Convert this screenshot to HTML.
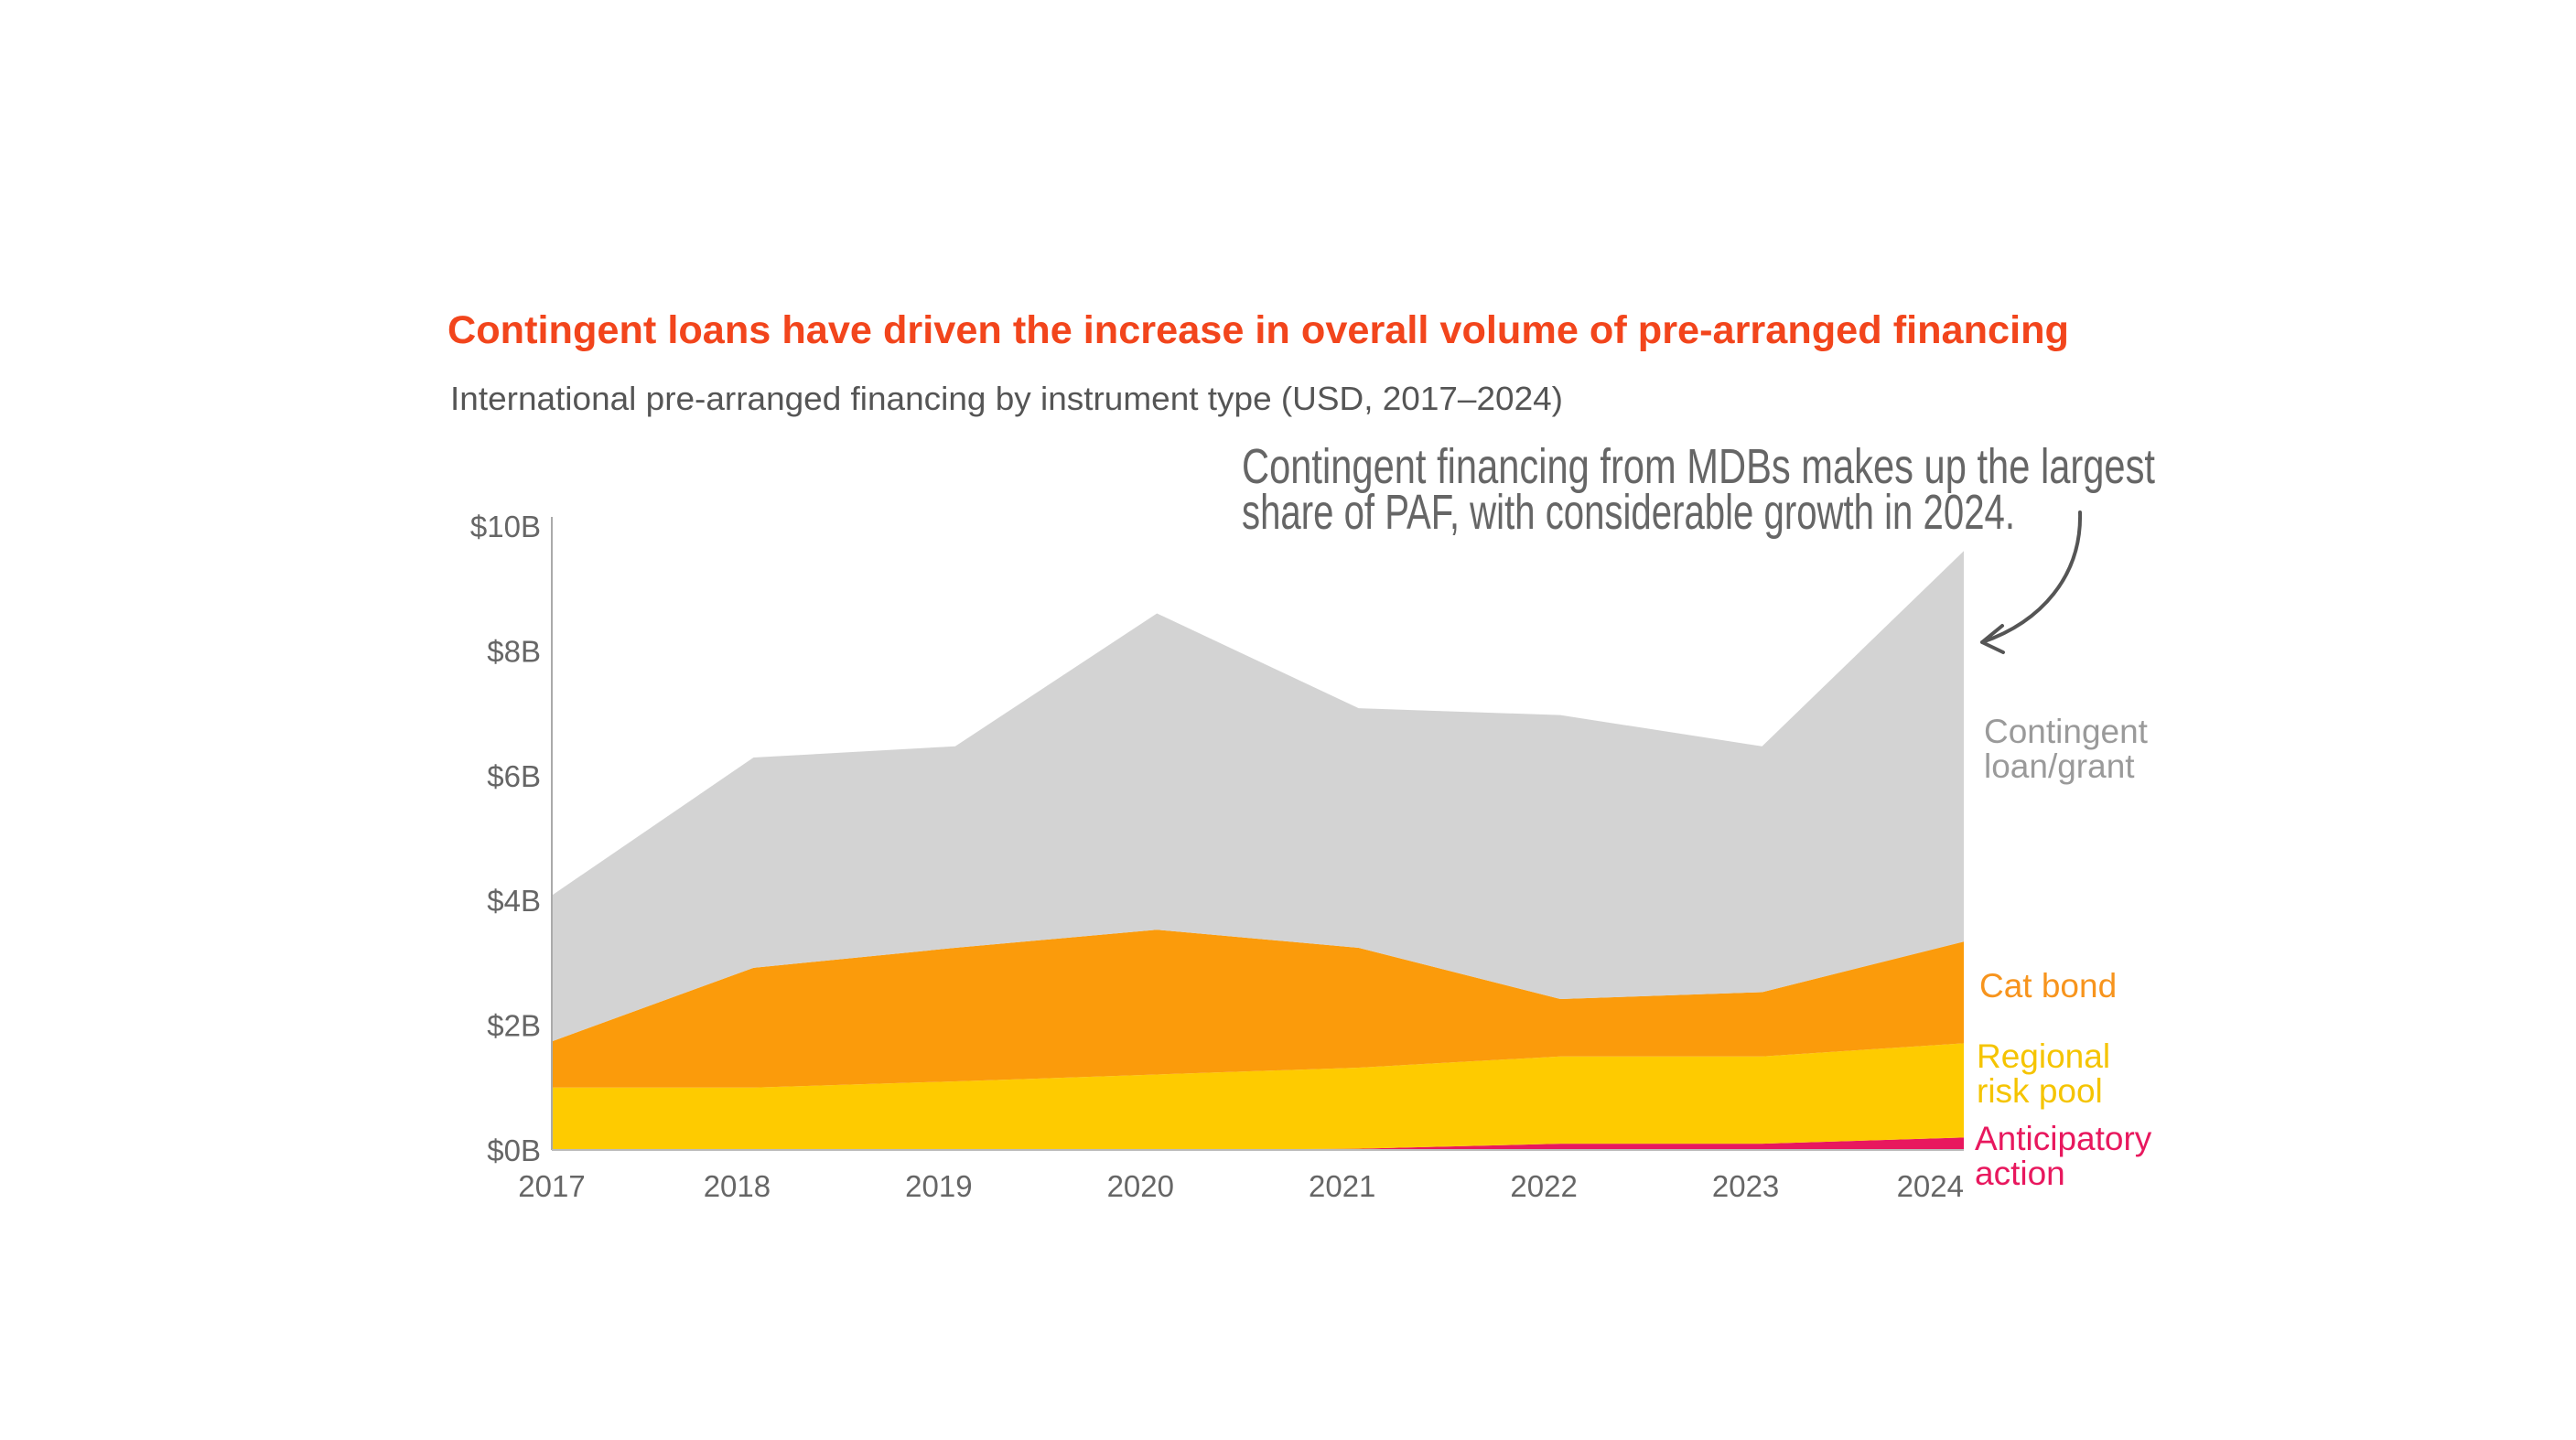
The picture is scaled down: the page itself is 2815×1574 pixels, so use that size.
<!DOCTYPE html>
<html><head><meta charset="utf-8"><style>
html,body{margin:0;padding:0;background:#fff;width:2815px;height:1574px;overflow:hidden}
svg{display:block}
text{font-family:"Liberation Sans",sans-serif}
</style></head><body>
<svg id="chart" width="2815" height="1574" viewBox="0 0 2815 1574" xmlns="http://www.w3.org/2000/svg">
<text x="489" y="375" font-size="43" font-weight="bold" fill="#f2451c" textLength="1772" lengthAdjust="spacingAndGlyphs">Contingent loans have driven the increase in overall volume of pre-arranged financing</text>
<text x="492" y="448" font-size="36" fill="#555" textLength="1216" lengthAdjust="spacingAndGlyphs">International pre-arranged financing by instrument type (USD, 2017–2024)</text>
<g fill="#666" font-size="54">
<text x="1357" y="528" textLength="998" lengthAdjust="spacingAndGlyphs">Contingent financing from MDBs makes up the largest</text>
<text x="1357" y="578" textLength="845" lengthAdjust="spacingAndGlyphs">share of PAF, with considerable growth in 2024.</text>
</g>
<path d="M2273 560 C2275 630 2230 680 2166 702 M2166 702 L2188 684 M2166 702 L2189 713" stroke="#555" stroke-width="4" fill="none" stroke-linecap="round"/>
<g id="areas"></g>
<g id="axes"></g>
<g font-size="37">
<text x="2168" y="812" fill="#9a9a9a">Contingent</text>
<text x="2168" y="850" fill="#9a9a9a">loan/grant</text>
<text x="2163" y="1090" fill="#f7941d">Cat bond</text>
<text x="2160" y="1167" fill="#f5c400">Regional</text>
<text x="2160" y="1205" fill="#f5c400">risk pool</text>
<text x="2158" y="1257" fill="#e8185e">Anticipatory</text>
<text x="2158" y="1295" fill="#e8185e">action</text>
</g>
</svg>
<script>
const years = ['2017','2018','2019','2020','2021','2022','2023','2024'];
const anticipatory = [0, 0, 0, 0, 0.02, 0.1, 0.1, 0.2];
const regional = [1.0, 1.0, 1.1, 1.21, 1.3, 1.4, 1.4, 1.51];
const catBond = [0.74, 1.92, 2.14, 2.32, 1.92, 0.92, 1.03, 1.63];
const contingent = [2.34, 3.37, 3.23, 5.07, 3.84, 4.55, 3.94, 6.26];
const yTicks = [0, 2, 4, 6, 8, 10];
const yTickLabels = ['$0B','$2B','$4B','$6B','$8B','$10B'];

const NS = 'http://www.w3.org/2000/svg';
const X0 = 603, X1 = 2146, Y0 = 1257, YTOP = 575, VMAX = 10;
function xs(i){ return X0 + i * (X1 - X0) / (years.length - 1); }
function ys(v){ return Y0 - v * (Y0 - YTOP) / VMAX; }

const series = [
  {name:'area-anticipatory-action', vals:anticipatory, color:'#e8185e'},
  {name:'area-regional-risk-pool', vals:regional, color:'#fecb00'},
  {name:'area-cat-bond', vals:catBond, color:'#fb9b0b'},
  {name:'area-contingent-loan', vals:contingent, color:'#d3d3d3'}
];
const areas = document.getElementById('areas');
let base = years.map(() => 0);
series.forEach(s => {
  const top = base.map((b, i) => b + s.vals[i]);
  let d = '';
  top.forEach((v, i) => { d += (i ? 'L' : 'M') + xs(i) + ' ' + ys(v) + ' '; });
  for (let i = years.length - 1; i >= 0; i--) d += 'L' + xs(i) + ' ' + ys(base[i]) + ' ';
  d += 'Z';
  const p = document.createElementNS(NS, 'path');
  p.setAttribute('d', d);
  p.setAttribute('fill', s.color);
  
  
  areas.appendChild(p);
  base = top;
});

const axes = document.getElementById('axes');
const yl = document.createElementNS(NS, 'line');
yl.setAttribute('x1', X0); yl.setAttribute('x2', X0);
yl.setAttribute('y1', 565); yl.setAttribute('y2', Y0);
yl.setAttribute('stroke', '#aaa'); yl.setAttribute('stroke-width', '2');


axes.appendChild(yl);
const xl = document.createElementNS(NS, 'line');
xl.setAttribute('x1', X0); xl.setAttribute('x2', X1);
xl.setAttribute('y1', Y0); xl.setAttribute('y2', Y0);
xl.setAttribute('stroke', '#bbb'); xl.setAttribute('stroke-width', '2');


axes.appendChild(xl);

yTicks.forEach((v, i) => {
  const t = document.createElementNS(NS, 'text');
  t.setAttribute('x', 591);
  t.setAttribute('y', ys(v) + 12);
  t.setAttribute('text-anchor', 'end');
  t.setAttribute('font-size', '33');
  t.setAttribute('fill', '#666');
  
  
  t.textContent = yTickLabels[i];
  axes.appendChild(t);
});
years.forEach((yr, i) => {
  const t = document.createElementNS(NS, 'text');
  const last = i === years.length - 1;
  t.setAttribute('x', last ? xs(i) : xs(i) - (i > 0 ? 18 : 0));
  t.setAttribute('y', 1308);
  t.setAttribute('text-anchor', last ? 'end' : 'middle');
  t.setAttribute('font-size', '33');
  t.setAttribute('fill', '#666');
  
  
  t.textContent = yr;
  axes.appendChild(t);
});
</script>
</body></html>
